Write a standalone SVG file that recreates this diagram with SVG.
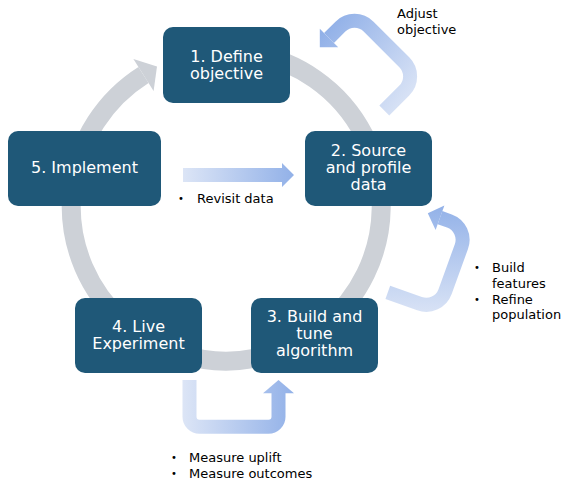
<svg xmlns="http://www.w3.org/2000/svg" width="585" height="494" viewBox="0 0 585 494">
<style>
.box{fill:#1F5878}
.bt{font-family:"DejaVu Sans",Verdana,sans-serif;font-size:16px;fill:#FFFFFF;text-anchor:middle}
.st{font-family:"DejaVu Sans",Verdana,sans-serif;font-size:13px;fill:#000000}
.bu{font-family:"DejaVu Sans",Verdana,sans-serif;font-size:10px;fill:#000000}
.ring{fill:none;stroke:#CDD1D7;stroke-width:19}
</style>
<defs>
<linearGradient id="gRev" gradientUnits="userSpaceOnUse" x1="183" y1="0" x2="294" y2="0">
<stop offset="0" stop-color="#DCE5F6"/><stop offset="1" stop-color="#92B1E8"/>
</linearGradient>
<linearGradient id="gAdj" gradientUnits="userSpaceOnUse" x1="322" y1="35" x2="410" y2="105">
<stop offset="0" stop-color="#92B1E8"/><stop offset="1" stop-color="#DCE5F6"/>
</linearGradient>
<linearGradient id="gBld" gradientUnits="userSpaceOnUse" x1="0" y1="205" x2="0" y2="318">
<stop offset="0" stop-color="#92B1E8"/><stop offset="1" stop-color="#DCE5F6"/>
</linearGradient>
<linearGradient id="gMea" gradientUnits="userSpaceOnUse" x1="183" y1="0" x2="294" y2="0">
<stop offset="0" stop-color="#DCE5F6"/><stop offset="1" stop-color="#92B1E8"/>
</linearGradient>
</defs>
<g id="connectors">
<g id="cycle">
<path class="ring" d="M252.9,53.4 A155,155 0 1 1 143.5,75"/>
<polygon fill="#CDD1D7" points="133.4,58.9 157,66.5 153.6,91.1"/>
</g>
<g id="revisit-arrow">
<polygon fill="url(#gRev)" points="183,168 282,168 282,163 294,175 282,187 282,182 183,182"/>
</g>
<g id="adjust-arrow">
<path fill="none" stroke="url(#gAdj)" stroke-width="14" d="M384.3,110.5 L404.3,90.5 A20,20 0 0 0 404.3,62.3 L368.6,26.6 A20,20 0 0 0 340.4,26.6 L329,38"/>
<polygon fill="url(#gAdj)" points="338.2,47.2 319.8,28.8 319.8,47.2"/>
</g>
<g id="build-arrow">
<path fill="none" stroke="url(#gBld)" stroke-width="14" d="M387.8,292.3 L419.5,303.6 A20,20 0 0 0 445.1,291.6 L461.4,246.6 A20,20 0 0 0 449.4,221 L440,217.7"/>
<polygon fill="url(#gBld)" points="444.4,205.5 427.8,213.3 435.6,229.9"/>
</g>
<g id="measure-arrow">
<path fill="none" stroke="url(#gMea)" stroke-width="14" d="M189.5,380 L189.5,416.7 A10,10 0 0 0 199.5,426.7 L268.5,426.7 A10,10 0 0 0 278.5,416.7 L278.5,393"/>
<polygon fill="url(#gMea)" points="263,393.3 278.5,380 294,393.3"/>
</g>
</g>
<g id="node1">
<rect class="box" x="163" y="27" width="127" height="76" rx="10"/>
<text class="bt" x="226.5" y="62">1. Define</text>
<text class="bt" x="226.5" y="79">objective</text>
</g>
<g id="node2">
<rect class="box" x="305" y="131" width="127" height="75" rx="10"/>
<text class="bt" x="368.5" y="156">2. Source</text>
<text class="bt" x="368.5" y="173">and profile</text>
<text class="bt" x="368.5" y="190">data</text>
</g>
<g id="node3">
<rect class="box" x="251" y="298" width="127" height="75" rx="10"/>
<text class="bt" x="314.5" y="322">3. Build and</text>
<text class="bt" x="314.5" y="339">tune</text>
<text class="bt" x="314.5" y="356">algorithm</text>
</g>
<g id="node4">
<rect class="box" x="75" y="298" width="127" height="75" rx="10"/>
<text class="bt" x="138.5" y="332">4. Live</text>
<text class="bt" x="138.5" y="349">Experiment</text>
</g>
<g id="node5">
<rect class="box" x="8" y="131" width="153" height="75" rx="10"/>
<text class="bt" x="84.5" y="173">5. Implement</text>
</g>
<g id="labels">
<text class="st" x="397" y="18">Adjust</text>
<text class="st" x="397" y="34">objective</text>
<text class="bu" x="178" y="202">•</text>
<text class="st" x="197" y="203">Revisit data</text>
<text class="bu" x="474" y="271">•</text>
<text class="st" x="492" y="272">Build</text>
<text class="st" x="492" y="287.5">features</text>
<text class="bu" x="474" y="303">•</text>
<text class="st" x="492" y="303.5">Refine</text>
<text class="st" x="492" y="319">population</text>
<text class="bu" x="171" y="461">•</text>
<text class="st" x="189" y="462">Measure uplift</text>
<text class="bu" x="171" y="477">•</text>
<text class="st" x="189" y="478">Measure outcomes</text>
</g>
</svg>
